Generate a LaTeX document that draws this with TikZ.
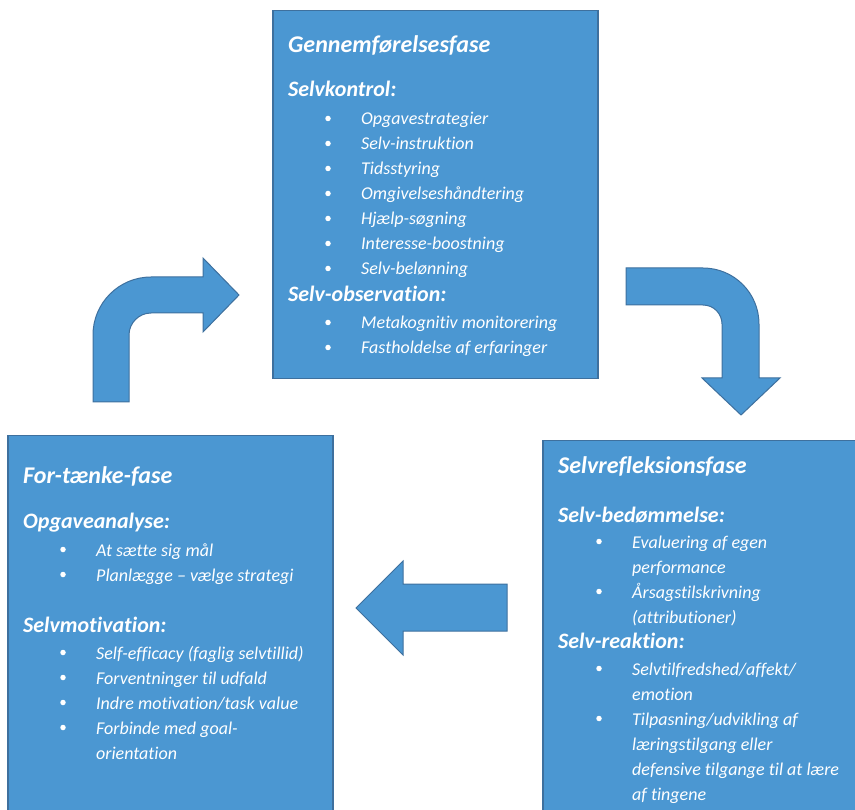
\documentclass[tikz,border=0pt]{standalone}
\usepackage{fontspec}
\setmainfont{Carlito}[RawFeature={-liga;-clig;-calt;-dlig}]
\definecolor{boxfill}{RGB}{75,151,210}
\definecolor{boxline}{RGB}{62,112,158}
\begin{document}
\begin{tikzpicture}[x=1pt,y=-1pt,
  phasebox/.style={rectangle, draw=boxline, fill=boxfill, line width=1.5pt, anchor=north west, inner sep=0pt},
  blockarrow/.style={draw=boxline, fill=boxfill, line width=1pt, line join=miter},
  heading/.style={anchor=base west, inner sep=0pt, text=white, font=\fontsize{24}{28}\selectfont\bfseries\itshape},
  subhead/.style={anchor=base west, inner sep=0pt, text=white, font=\fontsize{22}{26}\selectfont\bfseries\itshape},
  item/.style={anchor=base west, inner sep=0pt, text=white, font=\fontsize{18}{25}\selectfont\itshape},
  dot/.style={circle, fill=white, inner sep=0pt, minimum size=5.5pt}]
\useasboundingbox (0,0) rectangle (855,810);
\clip (0,0) rectangle (855,810);

% boxes
\node[phasebox, minimum width=325pt, minimum height=368pt] (exec) at (272,10) {};
\node[phasebox, minimum width=325pt, minimum height=420pt] (fore) at (7,435) {};
\node[phasebox, minimum width=330pt, minimum height=420pt] (refl) at (542,440) {};

% block arrows
\draw[blockarrow] (93,402) -- (93,335) .. controls (93,303) and (119,277) .. (151,277)
  -- (203,277) -- (203,258) -- (239,295) -- (203,332) -- (203,313) -- (151,313)
  .. controls (139,313) and (129,323) .. (129,335) -- (129,402) -- cycle;
\draw[blockarrow] (626,268) -- (703,268) .. controls (734,268) and (759,293) .. (759,324)
  -- (759,378) -- (780,378) -- (741,415) -- (702,378) -- (722,378) -- (722,324)
  .. controls (722,314) and (714,305) .. (703,305) -- (626,305) -- cycle;
\draw[blockarrow] (507,584) -- (403,584) -- (403,561) -- (356,608) -- (403,655)
  -- (403,631) -- (507,631) -- cycle;

% top box: Gennemførelsesfase
\node[heading] (eh) at (288,53) {Gennemførelsesfase};
\node[subhead] (es1) at (288,97) {Selvkontrol:};
\node[item] (e1) at (361,125) {Opgavestrategier};
\node[item] (e2) at (361,150) {Selv-instruktion};
\node[item] (e3) at (361,175) {Tidsstyring};
\node[item] (e4) at (361,200) {Omgivelseshåndtering};
\node[item] (e5) at (361,225) {Hjælp-søgning};
\node[item] (e6) at (361,250) {Interesse-boostning};
\node[item] (e7) at (361,275) {Selv-belønning};
\node[subhead] (es2) at (288,302) {Selv-observation:};
\node[item] (e8) at (361,329) {Metakognitiv monitorering};
\node[item] (e9) at (361,354) {Fastholdelse af erfaringer};
\foreach \y/\n in {125/1,150/2,175/3,200/4,225/5,250/6,275/7,329/8,354/9}
  \node[dot] (ed\n) at (328,\y-6.5) {};

% left box: For-tænke-fase
\node[heading] (fh) at (23,483) {For-tænke-fase};
\node[subhead] (fs1) at (23,529) {Opgaveanalyse:};
\node[item] (f1) at (96,556) {At sætte sig mål};
\node[item] (f2) at (96,581) {Planlægge – vælge strategi};
\node[subhead] (fs2) at (23,632) {Selvmotivation:};
\node[item] (f3) at (96,659) {Self-efficacy (faglig selvtillid)};
\node[item] (f4) at (96,684) {Forventninger til udfald};
\node[item] (f5) at (96,709) {Indre motivation/task value};
\node[item] (f6) at (96,734) {Forbinde med goal-};
\node[item] (f6b) at (96,759) {orientation};
\foreach \y/\n in {556/1,581/2,659/3,684/4,709/5,734/6}
  \node[dot] (fd\n) at (63,\y-6.5) {};

% right box: Selvrefleksionsfase
\node[heading] (rh) at (558,474) {Selvrefleksionsfase};
\node[subhead] (rs1) at (558,522) {Selv-bedømmelse:};
\node[item] (r1) at (632,548) {Evaluering af egen};
\node[item] (r1b) at (632,573) {performance};
\node[item] (r2) at (632,598) {Årsagstilskrivning};
\node[item] (r2b) at (632,623) {(attributioner)};
\node[subhead] (rs2) at (558,648) {Selv-reaktion:};
\node[item] (r3) at (632,675) {Selvtilfredshed/affekt/};
\node[item] (r3b) at (632,700) {emotion};
\node[item] (r4) at (632,725) {Tilpasning/udvikling af};
\node[item] (r4b) at (632,750) {læringstilgang eller};
\node[item] (r4c) at (632,775) {defensive tilgange til at lære};
\node[item] (r4d) at (632,800) {af tingene};
\foreach \y/\n in {548/1,598/2,675/3,725/4}
  \node[dot] (rd\n) at (599,\y-6.5) {};
\end{tikzpicture}
\end{document}
